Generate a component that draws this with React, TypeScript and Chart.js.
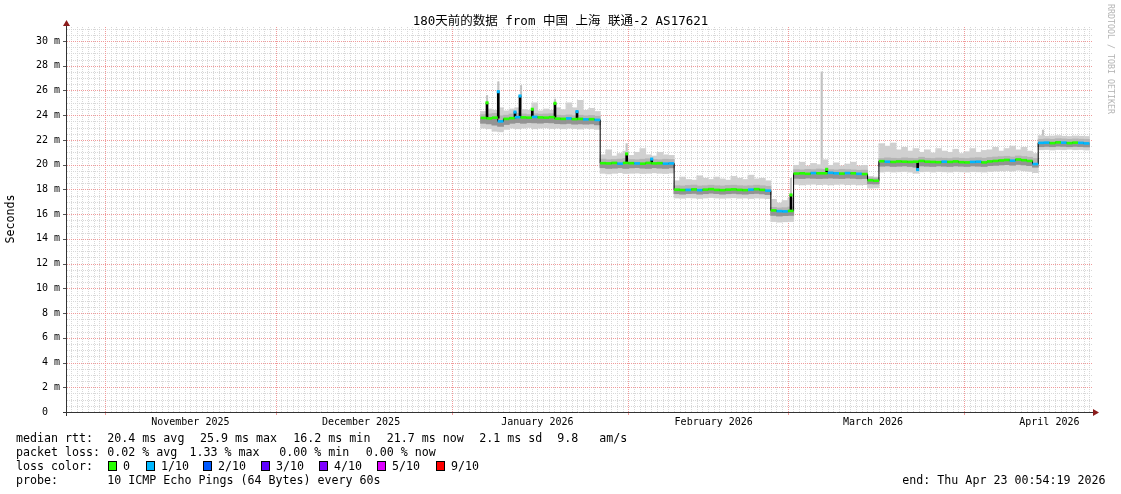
import React, { useEffect, useRef } from 'react';
import { Chart, registerables } from 'chart.js';

Chart.register(...registerables);

// ---------- text ----------
const TITLE = '180天前的数据 from 中国 上海 联通-2 AS17621';
const Y_TITLE = 'Seconds';
const WATERMARK = 'RRDTOOL / TOBI OETIKER';

// ---------- time axis ----------
const START_UTC = Date.UTC(2025, 9, 25, 0, 54, 19); // graph start (end - 180 days)
const X_MIN = 0.28;
const X_MAX = 180.63;
const MONTH_STARTS = ['2025-11-01', '2025-12-01', '2026-01-01', '2026-02-01', '2026-03-01', '2026-04-01'];
const MONTH_LABEL_DATES = ['2025-11-16', '2025-12-16', '2026-01-16', '2026-02-16', '2026-03-16', '2026-04-16'];
const MONTH_LABELS = ['November 2025', 'December 2025', 'January 2026', 'February 2026', 'March 2026', 'April 2026'];

// ---------- value axis ----------
const Y_MAX = 31.13;
const Y_MAJOR_STEP = 2;
const Y_MINOR_STEP = 0.5;

// ---------- data: one sample per day, first sample is day 73 after start ----------
const FIRST_SAMPLE_DAY = 73;

const MEDIAN = [
  23.78, 23.74, 23.80, 23.50, 23.70, 23.76, 23.84, 23.82, 23.80, 23.86, 23.82, 23.80, 23.84, 23.72, 23.70, 23.74, 23.68, 23.70, 23.66, 23.68, 23.62,
  20.12, 20.10, 20.14, 20.08, 20.14, 20.12, 20.10, 20.08, 20.14, 20.10, 20.12, 20.08, 20.10,
  17.98, 17.95, 17.96, 18.00, 17.94, 17.98, 18.02, 17.96, 17.94, 17.98, 18.00, 17.96, 17.94, 17.98, 18.02, 17.96, 17.90,
  16.30, 16.24, 16.22, 16.26,
  19.28, 19.30, 19.26, 19.32, 19.30, 19.30, 19.34, 19.30, 19.28, 19.32, 19.30, 19.26, 19.24,
  18.74, 18.70,
  20.28, 20.24, 20.22, 20.26, 20.24, 20.22, 20.24, 20.30, 20.24, 20.22, 20.20, 20.24, 20.22, 20.26, 20.20, 20.18, 20.22, 20.24, 20.18, 20.26, 20.30, 20.34, 20.38, 20.32, 20.42, 20.36, 20.30, 20.05,
  21.76, 21.78, 21.74, 21.80, 21.78, 21.74, 21.78, 21.76, 21.72,
];

// lost pings (out of 10) per sample
const LOSS = [
  0, 0, 0, 1, 0, 0, 1, 0, 0, 1, 0, 0, 0, 0, 0, 1, 0, 0, 1, 0, 1,
  0, 0, 0, 1, 0, 0, 1, 0, 0, 0, 0, 1, 1,
  0, 0, 1, 0, 1, 0, 0, 0, 0, 0, 0, 0, 0, 1, 0, 0, 1,
  0, 1, 1, 0,
  0, 0, 0, 1, 0, 0, 1, 1, 0, 1, 0, 1, 0,
  0, 0,
  0, 1, 0, 0, 0, 0, 0, 0, 0, 0, 0, 1, 0, 0, 0, 0, 1, 1, 0, 0, 0, 0, 0, 1, 0, 0, 0, 1,
  1, 1, 0, 0, 1, 0, 0, 1, 1,
];

const SMOKE_LO = [
  22.95, 22.90, 22.70, 22.65, 22.85, 22.95, 22.90, 22.95, 23.00, 22.90, 22.95, 22.98, 22.92, 22.95, 22.90, 22.95, 22.92, 22.88, 22.95, 22.90, 22.85,
  19.30, 19.25, 19.30, 19.35, 19.28, 19.30, 19.32, 19.28, 19.30, 19.34, 19.30, 19.28, 19.32,
  17.30, 17.28, 17.32, 17.30, 17.26, 17.30, 17.34, 17.30, 17.28, 17.30, 17.32, 17.28, 17.30, 17.26, 17.30, 17.28, 17.25,
  15.40, 15.35, 15.38, 15.40,
  18.40, 18.36, 18.40, 18.42, 18.38, 18.40, 18.36, 18.40, 18.42, 18.38, 18.40, 18.36, 18.38,
  18.10, 18.12,
  19.40, 19.45, 19.40, 19.42, 19.45, 19.40, 19.30, 19.42, 19.45, 19.40, 19.44, 19.42, 19.40, 19.45, 19.42, 19.40, 19.44, 19.42, 19.40, 19.45, 19.48, 19.50, 19.52, 19.48, 19.55, 19.50, 19.45, 19.35,
  21.20, 21.22, 21.18, 21.22, 21.20, 21.24, 21.20, 21.22, 21.18,
];

const SMOKE_Q1 = [
  23.35, 23.30, 23.20, 23.10, 23.25, 23.35, 23.40, 23.35, 23.40, 23.38, 23.36, 23.40, 23.38, 23.32, 23.30, 23.34, 23.28, 23.30, 23.28, 23.30, 23.22,
  19.75, 19.70, 19.72, 19.75, 19.70, 19.74, 19.76, 19.72, 19.70, 19.75, 19.72, 19.70, 19.74,
  17.65, 17.62, 17.66, 17.68, 17.62, 17.65, 17.70, 17.66, 17.62, 17.65, 17.68, 17.64, 17.62, 17.65, 17.68, 17.64, 17.58,
  15.90, 15.85, 15.88, 15.90,
  18.90, 18.88, 18.92, 18.90, 18.88, 18.90, 18.92, 18.90, 18.88, 18.92, 18.90, 18.86, 18.88,
  18.45, 18.44,
  19.88, 19.90, 19.86, 19.88, 19.90, 19.86, 19.80, 19.90, 19.88, 19.86, 19.90, 19.88, 19.86, 19.90, 19.88, 19.86, 19.90, 19.88, 19.86, 19.92, 19.95, 19.98, 20.00, 19.96, 20.02, 19.98, 19.92, 19.80,
  21.45, 21.48, 21.45, 21.50, 21.48, 21.45, 21.48, 21.46, 21.44,
];

const SMOKE_Q3 = [
  24.05, 24.10, 24.15, 23.95, 24.00, 24.10, 24.15, 24.10, 24.05, 24.12, 24.08, 24.10, 24.12, 24.00, 23.98, 24.02, 23.96, 24.00, 23.95, 23.98, 23.92,
  20.45, 20.40, 20.42, 20.45, 20.50, 20.42, 20.40, 20.44, 20.48, 20.42, 20.40, 20.44, 20.42,
  18.30, 18.28, 18.32, 18.35, 18.28, 18.30, 18.34, 18.30, 18.28, 18.32, 18.34, 18.30, 18.28, 18.30, 18.34, 18.30, 18.25,
  16.55, 16.50, 16.52, 16.58,
  19.60, 19.58, 19.62, 19.60, 19.65, 19.62, 19.60, 19.58, 19.62, 19.60, 19.58, 19.55, 19.56,
  18.95, 18.92,
  20.50, 20.55, 20.52, 20.50, 20.55, 20.52, 20.50, 20.60, 20.52, 20.50, 20.54, 20.52, 20.50, 20.55, 20.52, 20.50, 20.54, 20.56, 20.52, 20.58, 20.62, 20.65, 20.68, 20.62, 20.70, 20.66, 20.60, 20.50,
  22.05, 22.08, 22.05, 22.10, 22.08, 22.05, 22.08, 22.06, 22.04,
];

const SMOKE_HI = [
  24.30, 24.50, 24.40, 24.60, 24.35, 24.50, 24.60, 24.45, 24.40, 25.00, 24.35, 24.50, 24.40, 24.60, 24.45, 25.00, 24.60, 25.20, 24.40, 24.55, 24.30,
  20.80, 21.20, 20.70, 20.90, 21.10, 20.75, 21.00, 21.30, 20.80, 20.70, 21.00, 20.80, 20.75,
  18.70, 19.00, 18.80, 18.75, 19.10, 18.90, 18.80, 19.00, 18.85, 18.75, 19.05, 18.90, 18.80, 19.15, 18.85, 18.90, 18.70,
  17.20, 16.90, 17.10, 17.30,
  19.95, 20.20, 19.90, 20.10, 20.00, 20.40, 19.95, 20.15, 19.90, 20.05, 20.20, 19.90, 19.95,
  19.05, 19.00,
  21.70, 21.50, 21.75, 21.20, 21.40, 21.10, 21.30, 21.00, 21.20, 20.95, 21.30, 21.10, 21.00, 21.25, 20.90, 21.05, 21.30, 21.00, 21.15, 21.20, 21.40, 21.10, 21.30, 21.50, 21.20, 21.40, 21.10, 20.90,
  22.35, 22.30, 22.32, 22.35, 22.30, 22.28, 22.32, 22.30, 22.28,
];

// short-lived median excursions (day after start, from, to, lost pings)
const SPIKE_DAYS = [74.11, 76.09, 79.03, 79.91, 82.07, 86.06, 89.93, 98.66, 103.06, 127.54, 133.82, 149.81];
const SPIKE_FROM = [23.76, 23.76, 23.78, 23.84, 23.80, 23.82, 23.70, 20.12, 20.10, 16.24, 19.30, 20.24];
const SPIKE_TO = [25.00, 25.90, 24.25, 25.55, 24.48, 24.96, 24.29, 20.87, 20.45, 17.55, 19.62, 19.60];
const SPIKE_LOSS = [0, 1, 1, 1, 0, 0, 1, 0, 1, 0, 0, 1];

// single slow pings in the smoke
const SMOKE_SPIKE_DAYS = [74.11, 76.1, 80.08, 86.06, 98.66, 127.54, 132.94, 171.84];
const SMOKE_SPIKE_FROM = [24.0, 24.0, 24.0, 24.0, 20.4, 16.5, 19.5, 22.0];
const SMOKE_SPIKE_TO = [25.6, 26.7, 26.4, 25.3, 21.7, 18.9, 27.5, 22.8];

// ---------- legend ----------
const LOSS_COLORS = ['#26ff00', '#00b8ff', '#0059ff', '#5e00ff', '#7e00ff', '#dd00ff', '#ff0000'];
const LOSS_LABELS = ['0', '1/10', '2/10', '3/10', '4/10', '5/10', '9/10'];
const MEDIAN_LINE: [number, string][] = [
  [16, 'median rtt:'], [107.3, '20.4 ms avg'], [200, '25.9 ms max'], [293.3, '16.2 ms min'],
  [386.7, '21.7 ms now'], [479.3, '2.1 ms sd'], [557.3, '9.8'], [599.3, 'am/s'],
];
const LOSS_LINE: [number, string][] = [
  [16, 'packet loss:'], [107.3, '0.02 % avg'], [189.5, '1.33 % max'], [279.3, '0.00 % min'], [365.7, '0.00 % now'],
];
const LOSS_BOX_X = [108, 146, 203, 261, 319, 377, 436];
const PROBE_LINE: [number, string][] = [[16, 'probe:'], [107.3, '10 ICMP Echo Pings (64 Bytes) every 60s']];
const END_TEXT = 'end: Thu Apr 23 00:54:19 2026';

// ---------- style ----------
const MONO = "'DejaVu Sans Mono', 'Noto Sans CJK SC', monospace";
const MINOR_GRID = '#d8d8d8';
const MAJOR_GRID = '#f09a9a';
const AXIS_COLOR = '#333333';
const ARROW_COLOR = '#8b1c1c';
const TRANSPARENT = 'rgba(0,0,0,0)';

const DAY_MS = 86400000;
const dayOf = (iso: string) => (Date.parse(iso + 'T00:00:00Z') - START_UTC) / DAY_MS;

const MONTH_TICKS = MONTH_STARTS.map(dayOf);
const MONTH_LABEL_TICKS = MONTH_LABEL_DATES.map(dayOf);
const DAY_TICKS: number[] = [];
for (let k = 1; k <= 181; k++) {
  const v = (Date.UTC(2025, 9, 25 + k) - START_UTC) / DAY_MS;
  if (v > X_MIN && v < X_MAX) DAY_TICKS.push(v);
}
const Y_TICKS: number[] = [];
for (let v = 0; v <= Y_MAX + 1e-9; v += Y_MINOR_STEP) Y_TICKS.push(Math.round(v * 10) / 10);

const isMonthTick = (v: number) => MONTH_TICKS.some((m) => Math.abs(m - v) < 1e-6);
const isMajorY = (v: number) => Math.abs(v % Y_MAJOR_STEP) < 1e-9;

const sampleX = (i: number) => FIRST_SAMPLE_DAY + i + 0.5;

// rrdtool-style dotted grid, placed with the chart's own scales
const gridPlugin = {
  id: 'rrdGrid',
  beforeDatasetsDraw(chart: any) {
    const { ctx, chartArea: a, scales } = chart;
    const xs = scales.x;
    const ys = scales.y;
    ctx.save();
    ctx.lineWidth = 1;
    const pass = (major: boolean) => {
      ctx.setLineDash([1, 1]);
      ctx.strokeStyle = major ? MAJOR_GRID : MINOR_GRID;
      ctx.beginPath();
      for (const v of DAY_TICKS) {
        if (isMonthTick(v) !== major) continue;
        const px = Math.round(xs.getPixelForValue(v)) + 0.5;
        ctx.moveTo(px, a.top);
        ctx.lineTo(px, a.bottom);
      }
      for (const v of Y_TICKS) {
        if (isMajorY(v) !== major || v === 0) continue;
        const py = Math.round(ys.getPixelForValue(v)) + 0.5;
        ctx.moveTo(a.left, py);
        ctx.lineTo(a.right, py);
      }
      ctx.stroke();
    };
    pass(false);
    pass(true);
    ctx.setLineDash([]);
    ctx.strokeStyle = MAJOR_GRID;
    ctx.beginPath();
    for (const v of MONTH_TICKS) {
      const px = Math.round(xs.getPixelForValue(v)) + 0.5;
      ctx.moveTo(px, a.bottom);
      ctx.lineTo(px, a.bottom + 3);
    }
    ctx.stroke();
    ctx.strokeStyle = '#555';
    ctx.beginPath();
    for (const v of Y_TICKS) {
      if (!isMajorY(v)) continue;
      const py = Math.round(ys.getPixelForValue(v)) + 0.5;
      ctx.moveTo(a.left - 4, py);
      ctx.lineTo(a.left, py);
    }
    ctx.stroke();
    ctx.restore();
  },
};

const axesPlugin = {
  id: 'rrdAxes',
  afterDraw(chart: any) {
    const { ctx, chartArea: a } = chart;
    ctx.save();
    ctx.strokeStyle = AXIS_COLOR;
    ctx.lineWidth = 1;
    ctx.beginPath();
    ctx.moveTo(a.left - 4, a.bottom + 0.5);
    ctx.lineTo(a.right + 1, a.bottom + 0.5);
    ctx.moveTo(a.left - 0.5, a.bottom + 4);
    ctx.lineTo(a.left - 0.5, a.top - 1);
    ctx.stroke();
    ctx.fillStyle = ARROW_COLOR;
    ctx.beginPath();
    ctx.moveTo(a.left - 0.5, a.top - 7);
    ctx.lineTo(a.left - 4, a.top - 1);
    ctx.lineTo(a.left + 3, a.top - 1);
    ctx.closePath();
    ctx.fill();
    ctx.beginPath();
    ctx.moveTo(a.right + 6, a.bottom + 0.5);
    ctx.lineTo(a.right, a.bottom - 3);
    ctx.lineTo(a.right, a.bottom + 4);
    ctx.closePath();
    ctx.fill();
    ctx.restore();
  },
};

const txt = (left: number, top: number, s: string, extra: React.CSSProperties = {}) => (
  <span
    key={`${left}-${top}-${s}`}
    style={{
      position: 'absolute', left, top, whiteSpace: 'pre', fontFamily: MONO, fontSize: 11.65,
      lineHeight: '14px', color: '#000', ...extra,
    }}
  >
    {s}
  </span>
);

export default function App() {
  const canvasRef = useRef<HTMLCanvasElement>(null);

  useEffect(() => {
    if (!canvasRef.current) return;
    Chart.defaults.font.family = MONO;

    const floatBars = (days: number[], a: number[], b: number[]) => days.map((d, i) => ({ x: d, y: [a[i], b[i]] }));
    const sampleBars = (a: number[], b: number[]) => a.map((v, i) => ({ x: sampleX(i), y: [v, b[i]] }));

    const chart = new Chart(canvasRef.current, {
      type: 'bar',
      data: {
        datasets: [
          {
            type: 'line', label: 'spikeTips', xAxisID: 'x', yAxisID: 'y', order: 1,
            data: SPIKE_DAYS.map((d, i) => ({ x: d, y: SPIKE_TO[i] })),
            showLine: false, pointStyle: 'rect', pointRadius: 2.2, pointBorderWidth: 0,
            pointBackgroundColor: (c: any) => LOSS_COLORS[SPIKE_LOSS[c.dataIndex ?? 0] ?? 0],
          } as any,
          {
            type: 'line', label: 'medianLoss', xAxisID: 'x', yAxisID: 'y', order: 2,
            data: MEDIAN.map((v, i) => ({ x: sampleX(i), y: v })),
            showLine: false, pointStyle: 'line', pointRadius: 2.9, pointBorderWidth: 2.6,
            pointBorderColor: (c: any) => LOSS_COLORS[LOSS[c.dataIndex ?? 0] ?? 0],
          } as any,
          {
            type: 'line', label: 'median', xAxisID: 'x', yAxisID: 'y', order: 3,
            data: MEDIAN.map((v, i) => ({ x: sampleX(i), y: v })),
            stepped: 'middle', borderColor: '#000', borderWidth: 1, pointRadius: 0,
          } as any,
          {
            type: 'bar', label: 'spikes', xAxisID: 'x', yAxisID: 'y', order: 4,
            data: floatBars(SPIKE_DAYS, SPIKE_FROM, SPIKE_TO),
            backgroundColor: '#000', barThickness: 2, grouped: false, borderWidth: 0,
          } as any,
          {
            type: 'bar', label: 'smokeDark', xAxisID: 'x', yAxisID: 'y', order: 8,
            data: sampleBars(SMOKE_Q1, MEDIAN),
            backgroundColor: '#939393', barThickness: 6, grouped: false, borderWidth: 0,
          } as any,
          {
            type: 'bar', label: 'smokeMid', xAxisID: 'x', yAxisID: 'y', order: 9,
            data: sampleBars(SMOKE_Q1, SMOKE_Q3),
            backgroundColor: '#b4b4b4', barThickness: 6, grouped: false, borderWidth: 0,
          } as any,
          {
            type: 'bar', label: 'smokeOuter', xAxisID: 'x', yAxisID: 'y', order: 10,
            data: sampleBars(SMOKE_LO, SMOKE_HI),
            backgroundColor: '#d0d0d0', barThickness: 6, grouped: false, borderWidth: 0,
          } as any,
          {
            type: 'bar', label: 'smokeSpikes', xAxisID: 'x', yAxisID: 'y', order: 11,
            data: floatBars(SMOKE_SPIKE_DAYS, SMOKE_SPIKE_FROM, SMOKE_SPIKE_TO),
            backgroundColor: '#c2c2c2', barThickness: 1.5, grouped: false, borderWidth: 0,
          } as any,
        ],
      },
      options: {
        responsive: false,
        animation: false,
        devicePixelRatio: 1,
        events: [],
        layout: { padding: { left: 0, right: 28, top: 27, bottom: 62 } },
        plugins: { legend: { display: false }, tooltip: { enabled: false }, title: { display: false } },
        scales: {
          x: {
            type: 'linear', position: 'bottom', weight: 0, min: X_MIN, max: X_MAX, offset: false,
            afterBuildTicks: (s: any) => { s.ticks = DAY_TICKS.map((v) => ({ value: v })); },
            afterFit: (s: any) => { s.height = 0; },
            ticks: { display: false },
            grid: { display: false, offset: false, drawTicks: false },
            border: { display: false },
          },
          x2: {
            type: 'linear', position: 'bottom', weight: 1, min: X_MIN, max: X_MAX, offset: false,
            afterBuildTicks: (s: any) => { s.ticks = MONTH_LABEL_TICKS.map((v) => ({ value: v })); },
            afterFit: (s: any) => { s.height = 20; },
            ticks: {
              autoSkip: false, maxRotation: 0, minRotation: 0, padding: 4, color: '#000',
              font: { size: 10, family: MONO },
              callback: (_v: any, i: number) => MONTH_LABELS[i],
            },
            grid: { display: false, drawTicks: false, offset: false },
            border: { display: false },
          },
          y: {
            type: 'linear', position: 'left', min: 0, max: Y_MAX,
            afterBuildTicks: (s: any) => { s.ticks = Y_TICKS.map((v) => ({ value: v })); },
            afterFit: (s: any) => { s.width = 67; },
            ticks: {
              autoSkip: false, padding: 3, color: '#000', font: { size: 10, family: MONO },
              callback: (v: any) => {
                const n = Number(v);
                if (!isMajorY(n)) return '';
                return n === 0 ? '0  ' : `${n} m`;
              },
            },
            grid: { color: TRANSPARENT, tickColor: TRANSPARENT, drawTicks: true, tickLength: 4 },
            border: { display: false },
          },
        },
      } as any,
      plugins: [gridPlugin, axesPlugin],
    });
    return () => chart.destroy();
  }, []);

  return (
    <div
      style={{
        position: 'fixed', left: 0, top: 0, width: 1121, height: 494, background: '#fff', overflow: 'hidden',
        fontFamily: MONO,
      }}
    >
      <canvas
        ref={canvasRef}
        width={1121}
        height={494}
        style={{ position: 'absolute', left: 0, top: 0, width: 1121, height: 494 }}
      />
      <div
        style={{
          position: 'absolute', left: 0, top: 14, width: 1121, textAlign: 'center', whiteSpace: 'pre',
          fontFamily: MONO, fontSize: 12.5, lineHeight: '14px', color: '#000',
        }}
      >
        {TITLE}
      </div>
      <div
        style={{
          position: 'absolute', left: -40, top: 212, width: 100, height: 14, textAlign: 'center',
          fontFamily: MONO, fontSize: 11.65, lineHeight: '14px', color: '#000', transform: 'rotate(-90deg)',
        }}
      >
        {Y_TITLE}
      </div>
      <div
        style={{
          position: 'absolute', left: 1051, top: 54, width: 120, height: 10, textAlign: 'center',
          fontFamily: MONO, fontSize: 8.3, lineHeight: '10px', color: '#b4b4b4', transform: 'rotate(90deg)',
          whiteSpace: 'pre',
        }}
      >
        {WATERMARK}
      </div>
      {MEDIAN_LINE.map(([x, s]) => txt(x, 431, s))}
      {LOSS_LINE.map(([x, s]) => txt(x, 445, s))}
      {txt(16, 459, 'loss color:')}
      {LOSS_BOX_X.map((x, i) => (
        <React.Fragment key={`box-${i}`}>
          <span
            style={{
              position: 'absolute', left: x, top: 461, width: 9, height: 10, boxSizing: 'border-box',
              border: '1px solid #000', background: LOSS_COLORS[i],
            }}
          />
          {txt(x + 15, 459, LOSS_LABELS[i])}
        </React.Fragment>
      ))}
      {PROBE_LINE.map(([x, s]) => txt(x, 473, s))}
      {txt(902.3, 473, END_TEXT)}
    </div>
  );
}
